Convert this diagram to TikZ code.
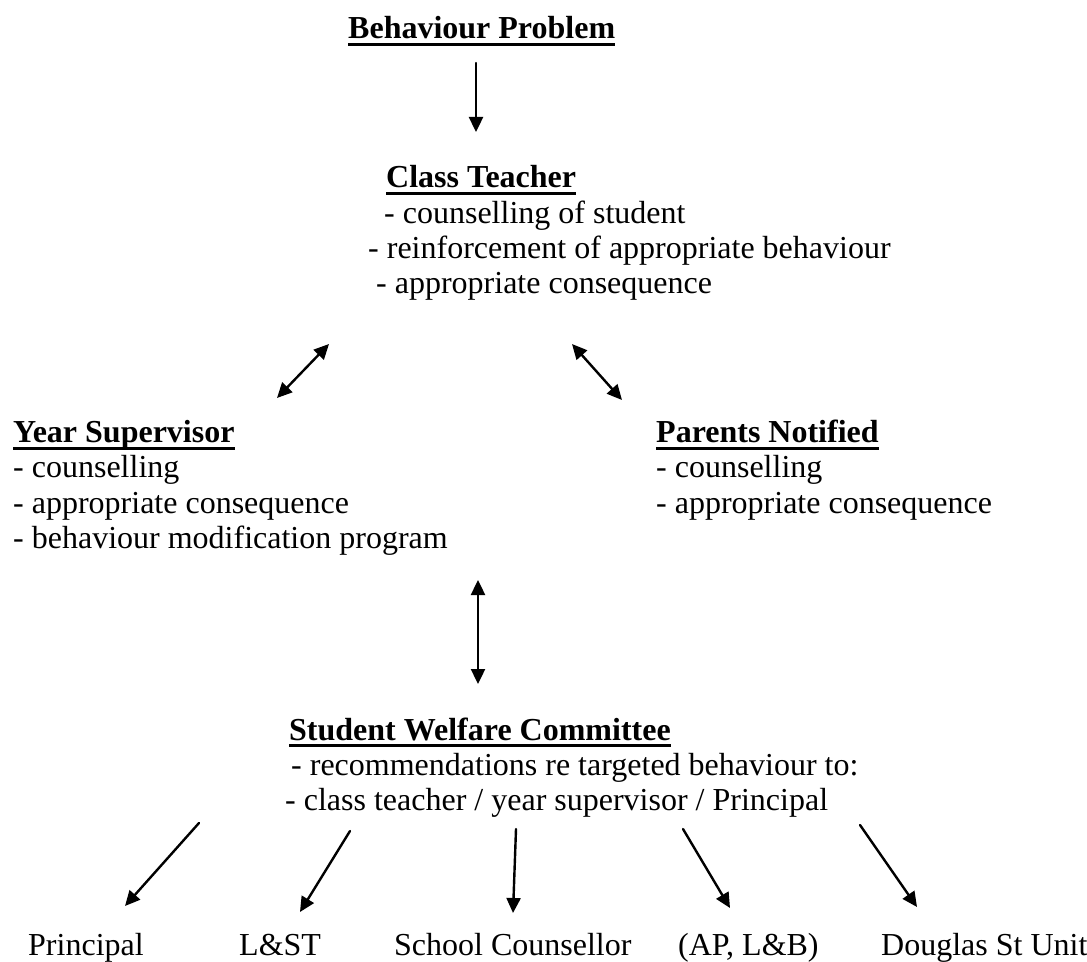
\documentclass[tikz,border=0pt]{standalone}
\usepackage{fontspec}
\setmainfont{Liberation Serif}
\usetikzlibrary{arrows.meta}
% bold heading with a heavy underline
\newcommand\head[1]{\sbox0{\bfseries #1}\rlap{\rule[-3.5pt]{\wd0}{1.5pt}}\usebox0}
\begin{document}
\begin{tikzpicture}[x=0.5pt,y=-0.5pt,line
				join=round,line
				cap=round,font=\fontsize{16}{19}\selectfont,
				>={Triangle[length=7.5pt,width=7pt]},line width=1.2pt,
				txt/.style={anchor=base west,inner sep=0pt}]
				\useasboundingbox (0,0) rectangle (1087,962);
				% top of the chart
				\node[txt] (bp) at (347,39) {\head{Behaviour Problem}};
				\node[txt] (ct) at (385,188) {\head{Class Teacher}};
				\node[txt] (ct1) at (383,224) {- counselling of student};
				\node[txt] (ct2) at (367,259) {- reinforcement of appropriate behaviour};
				\node[txt] (ct3) at (375,294) {- appropriate consequence};
				% middle row
				\node[txt] (ys) at (12,443) {\head{Year Supervisor}};
				\node[txt] (ys1) at (12,478) {- counselling};
				\node[txt] (ys2) at (12,513) {- appropriate consequence};
				\node[txt] (ys3) at (12,548) {- behaviour modification program};
				\node[txt] (pn) at (655,443) {\head{Parents Notified}};
				\node[txt] (pn1) at (655,478) {- counselling};
				\node[txt] (pn2) at (655,513) {- appropriate consequence};
				% committee
				\node[txt] (swc) at (288,740) {\head{Student Welfare Committee}};
				\node[txt] (sw1) at (290,775) {- recommendations re targeted behaviour to:};
				\node[txt] (sw2) at (284,810) {- class teacher / year supervisor / Principal};
				% bottom row
				\node[txt] (pr) at (27,955) {Principal};
				\node[txt] (lst) at (238,955) {L\&ST};
				\node[txt] (sc) at (393,955) {School Counsellor};
				\node[txt] (ap) at (677,955) {(AP, L\&B)};
				\node[txt] (du) at (880,955) {Douglas St Unit};
				% arrow ends
				\path (476,63) coordinate (A1)
				(476,132) coordinate (A2)
				(277,398) coordinate (L1)
				(329,344) coordinate (L2)
				(572,344) coordinate (R1)
				(622,400) coordinate (R2)
				(478,580) coordinate (V1)
				(478,684) coordinate (V2);
				\path (199,823) coordinate (P1) (125,906) coordinate (P2)
				(350,831) coordinate (Q1) (300,912) coordinate (Q2)
				(516,829) coordinate (S1) (513,913) coordinate (S2)
				(683,829) coordinate (T1) (730,908) coordinate (T2)
				(860,825) coordinate (U1) (917,907) coordinate (U2);
				\draw[->] (A1)--(A2);
				\draw[<->] (L1)--(L2);
				\draw[<->] (R1)--(R2);
				\draw[<->] (V1)--(V2);
				\draw[->] (P1)--(P2);
				\draw[->] (Q1)--(Q2);
				\draw[->] (S1)--(S2);
				\draw[->] (T1)--(T2);
				\draw[->] (U1)--(U2);
			\end{tikzpicture}
\end{document}
